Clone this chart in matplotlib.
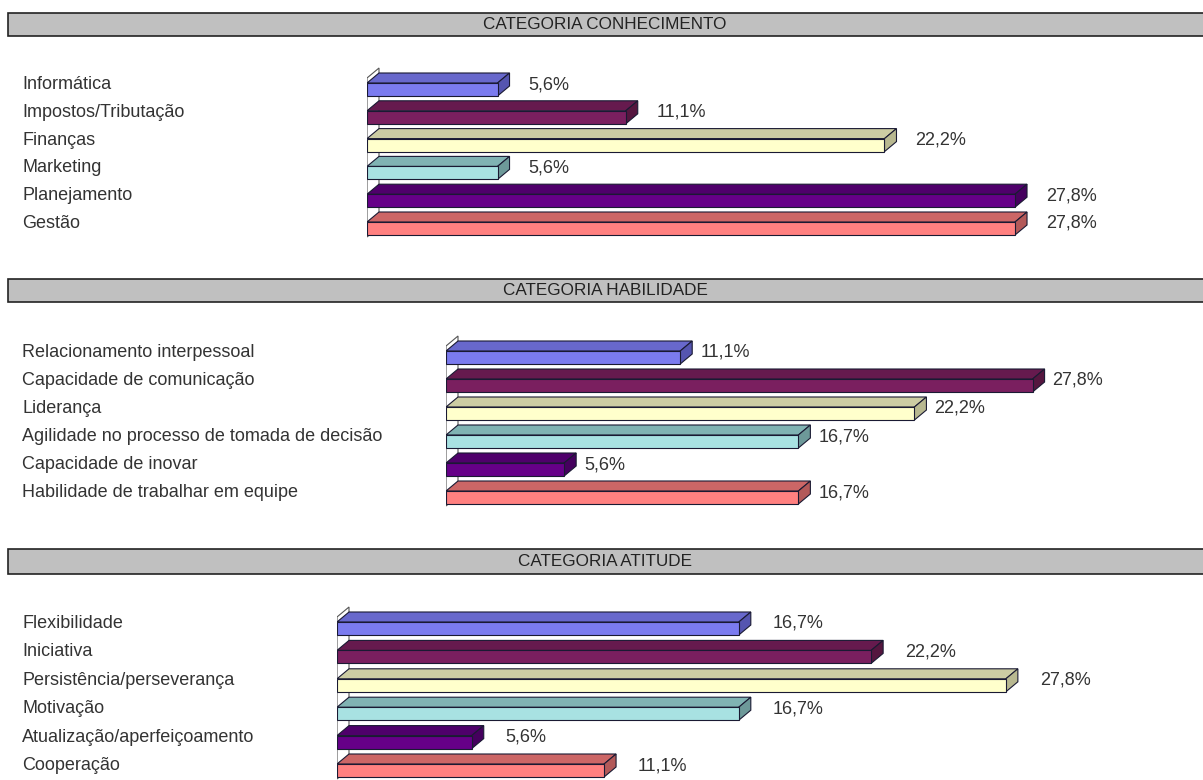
import numpy as np
import matplotlib.pyplot as plt
from matplotlib.patches import Polygon, Rectangle
from matplotlib.transforms import blended_transform_factory

plt.rcParams['font.family'] = ['Liberation Sans', 'DejaVu Sans']

W, H = 1203, 780

# data
conhecimento = ["Informática", "Impostos/Tributação", "Finanças", "Marketing",
                "Planejamento", "Gestão"]
conhecimento_pct = [5.6, 11.1, 22.2, 5.6, 27.8, 27.8]

habilidade = ["Relacionamento interpessoal", "Capacidade de comunicação", "Liderança",
              "Agilidade no processo de tomada de decisão", "Capacidade de inovar",
              "Habilidade de trabalhar em equipe"]
habilidade_pct = [11.1, 27.8, 22.2, 16.7, 5.6, 16.7]

atitude = ["Flexibilidade", "Iniciativa", "Persistência/perseverança", "Motivação",
           "Atualização/aperfeiçoamento", "Cooperação"]
atitude_pct = [16.7, 22.2, 27.8, 16.7, 5.6, 11.1]

# face colours of the 3d bars: front, top, right end
front_col = ["#7b7bef", "#7a1f5f", "#ffffcc", "#a8e2e2", "#660088", "#ff8080"]
top_col = ["#6868cc", "#661a4e", "#cccca3", "#80b3b3", "#4f006b", "#cc6666"]
side_col = ["#5555b0", "#55163f", "#b8b890", "#6d9999", "#45005e", "#b35959"]
edge_col = "#1a1a33"
txt_col = "#333333"

DX, DY = 12, 10      # depth of the bars in pixels
BAR_H = 13           # height of the front face in pixels

fig = plt.figure(figsize=(W / 100, H / 100), dpi=100)


def panel(title, cats, vals, head_top, head_bot, x0, scale, y0, step, lab_off):
    # grey title strip
    fig.add_artist(Rectangle((8 / W, 1 - head_bot / H), 1.0, (head_bot - head_top) / H,
                             transform=fig.transFigure, fc="#c0c0c0", ec="#222222", lw=1.2))
    fig.text(605 / W, 1 - (head_top + head_bot) / 2 / H, title, ha="center", va="center",
             fontsize=12.3, color="#222222")

    top_px = y0 - 1.3 * step
    bot_px = y0 + 5.6 * step
    ax = fig.add_axes([x0 / W, 1 - bot_px / H, (W - x0) / W, (bot_px - top_px) / H])
    ax.set_xlim(0, (W - x0) / scale)
    ax.set_ylim((bot_px - y0) / step, (top_px - y0) / step)
    ax.axis("off")

    ddx = DX / scale
    ddy = DY / step
    h = BAR_H / step
    n = len(vals)

    # back wall at the base of the bars
    wt = -h / 2 - 5 / step
    wb = n - 1 + h / 2 + 2 / step
    ax.add_patch(Polygon([(0, wt), (ddx, wt - ddy), (ddx, wb - ddy), (0, wb)],
                         closed=True, fc="white", ec="#555555", lw=0.8, zorder=1))

    lab_tr = blended_transform_factory(fig.transFigure, ax.transData)
    for i, (c, v) in enumerate(zip(cats, vals)):
        yt = i - h / 2
        yb = i + h / 2
        ax.add_patch(Polygon([(0, yt), (v, yt), (v + ddx, yt - ddy), (ddx, yt - ddy)],
                             closed=True, fc=top_col[i], ec=edge_col, lw=0.8, zorder=2))
        ax.add_patch(Polygon([(v, yt), (v + ddx, yt - ddy), (v + ddx, yb - ddy), (v, yb)],
                             closed=True, fc=side_col[i], ec=edge_col, lw=0.8, zorder=2))
        ax.add_patch(Rectangle((0, yt), v, h, fc=front_col[i], ec=edge_col, lw=0.8, zorder=3))

        ymid = i - 5 / step
        ax.text(v + lab_off / scale, ymid, f"{v:.1f}%".replace(".", ","), ha="left",
                va="center", fontsize=13, color=txt_col)
        ax.text(22 / W, ymid, c, transform=lab_tr, ha="left", va="center",
                fontsize=13, color=txt_col)


panel("CATEGORIA CONHECIMENTO", conhecimento, conhecimento_pct,
      13, 36, 367, 23.31, 89.5, 27.8, 31)
panel("CATEGORIA HABILIDADE", habilidade, habilidade_pct,
      279, 302, 446, 21.1, 357.5, 28.0, 20)
panel("CATEGORIA ATITUDE", atitude, atitude_pct,
      549, 574, 337, 24.06, 628.5, 28.4, 34)

fig.savefig("out.png", dpi=100)
